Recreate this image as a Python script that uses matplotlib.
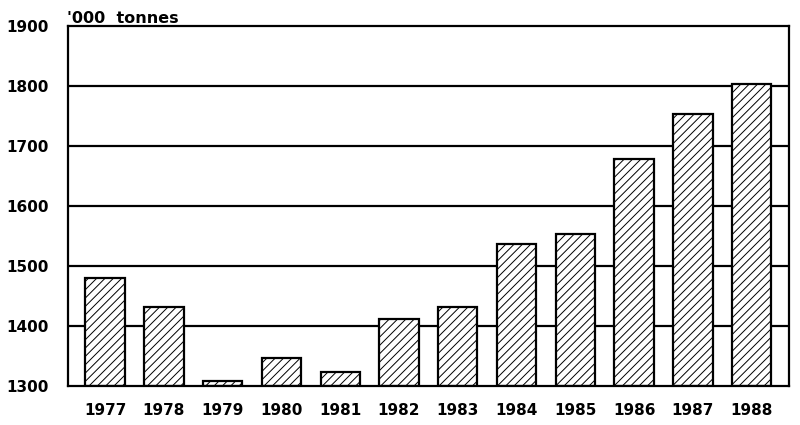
import matplotlib
matplotlib.use("Agg")
import matplotlib.pyplot as plt

years = ["1977", "1978", "1979", "1980", "1981", "1982", "1983", "1984", "1985", "1986", "1987", "1988"]
values = [1480, 1432, 1308, 1347, 1323, 1412, 1431, 1536, 1553, 1678, 1754, 1803]
yticks = [1300, 1400, 1500, 1600, 1700, 1800, 1900]
unit_label = "'000  tonnes"

plt.rcParams['font.family'] = ['DejaVu Sans']
plt.rcParams['hatch.linewidth'] = 0.7

fig = plt.figure(figsize=(8, 4.25), dpi=100)
ax = fig.add_axes([0.085, 0.092, 0.901, 0.847])

x = list(range(len(years)))
for yv in yticks[1:-1]:
    ax.axhline(yv, color='black', lw=1.6, zorder=1)
ax.bar(x, [v - 1300 for v in values], bottom=1300, width=0.67, color='white',
       edgecolor='black', linewidth=1.6, hatch='////', zorder=2)

ax.set_ylim(1300, 1900)
ax.set_xlim(-0.63, 11.63)
ax.set_yticks(yticks)
ax.set_yticklabels([str(t) for t in yticks], fontsize=11, fontweight='bold')
ax.set_xticks(x)
ax.set_xticklabels(years, fontsize=11, fontweight='bold')
ax.tick_params(axis='y', length=0, pad=14)
ax.tick_params(axis='x', length=0, pad=12)
for s in ax.spines.values():
    s.set_linewidth(1.6)
ax.text(-0.002, 1.0, unit_label, transform=ax.transAxes, fontsize=11.5,
        fontweight='bold', ha='left', va='bottom')

fig.savefig("out.png", dpi=100)
